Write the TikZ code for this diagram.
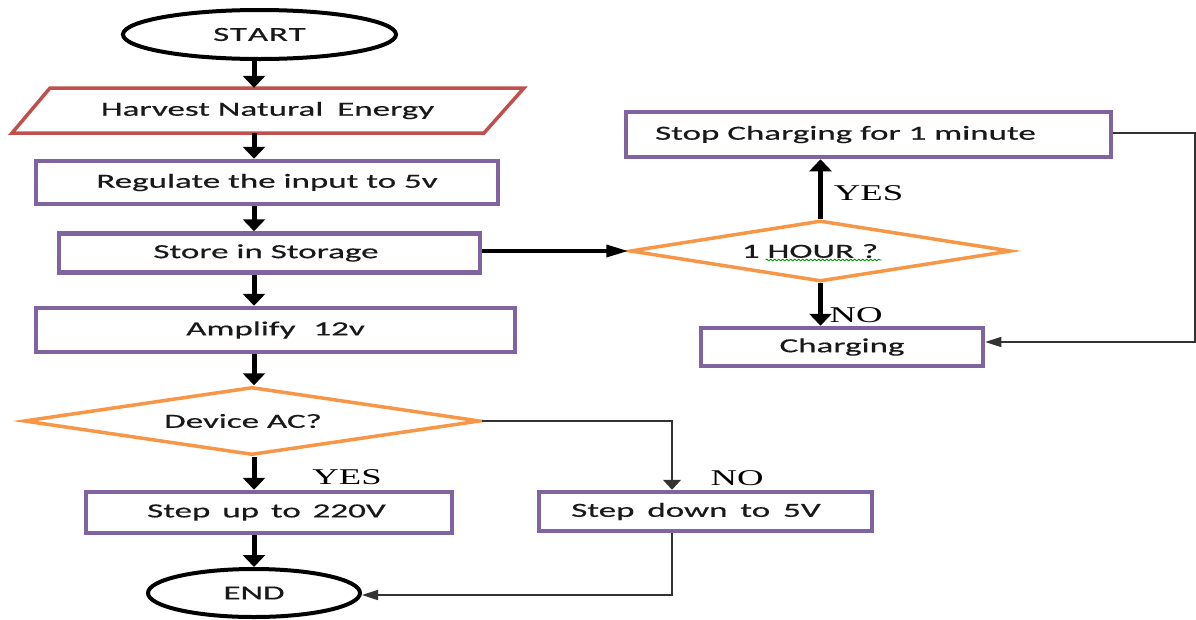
\documentclass[tikz,border=0pt]{standalone}
\usepackage{fontspec}
\newfontfamily\boxfont[FakeStretch=1.75,FakeBold=0.5]{Carlito}
\newfontfamily\labfont[FakeStretch=1.63]{Liberation Serif}
\usetikzlibrary{shapes.geometric,arrows.meta,decorations.pathmorphing}
\definecolor{boxpurple}{HTML}{8064A2}
\definecolor{dorange}{HTML}{F79646}
\definecolor{pred}{HTML}{C0504D}
\tikzset{
  txt/.style={font=\boxfont\fontsize{20}{24}\selectfont, text=black!90},
  proc/.style={txt, draw=boxpurple, line width=4.5pt, rectangle, inner sep=0pt},
  term/.style={txt, draw=black, line width=4pt, ellipse, inner sep=0pt},
  decis/.style={txt, draw=dorange, line width=3.5pt, diamond, inner sep=0pt},
  lab/.style={font=\labfont\fontsize{22.5}{26}\selectfont, text=black, inner sep=0pt},
  vthick/.style={draw=black, line width=5pt, -{Triangle[width=22pt,length=12pt]}},
  hthick/.style={draw=black, line width=3.5pt, -{Triangle[width=12pt,length=22pt]}},
  vthin/.style={draw=black!80, line width=1.6pt, -{Triangle[width=18pt,length=10pt]}},
  hthin/.style={draw=black!80, line width=1.6pt, -{Triangle[width=10pt,length=16pt]}},
}
\begin{document}
\begin{tikzpicture}[x=1pt,y=-1pt]
\useasboundingbox[fill=white] (0,0) rectangle (1196,619);
\coordinate (spine) at (254,0);
\coordinate (dcol) at (672,0);
\coordinate (rcol) at (1195,0);

% left column
\node[term, minimum width=273pt, minimum height=49pt] (start) at (259.5,34.5) {S\hspace{0.04em}T\hspace{0.04em}A\hspace{0.04em}R\hspace{0.04em}T};
\draw[draw=pred, line width=3.5pt, line join=miter] (50,88) -- (524,88) -- (484,133) -- (12,133) -- cycle;
\node[txt, inner sep=0pt, minimum height=45pt] (harvest) at (267.5,110.5) {Harvest Natural\hspace{0.3em} Energy};
\node[proc, minimum width=462pt, minimum height=43pt] (regulate) at (267,182.5) {Regulate the input to 5v};
\node[proc, minimum width=421pt, minimum height=39pt] (store) at (269.5,253) {\hspace*{-7pt}Store in Storage};
\node[proc, minimum width=479pt, minimum height=44pt] (amplify) at (275.5,330) {Amplify\hspace{0.5em} 12v};
\node[decis, aspect=6.7, minimum width=456pt, minimum height=68pt] (device) at (252,421) {\hspace*{-18pt}Device AC?};
\node[proc, minimum width=366pt, minimum height=41pt] (stepup) at (269,512.5) {\hspace*{-5pt}Step\hspace{0.2em} up\hspace{0.2em} to\hspace{0.2em} 220V};
\node[term, minimum width=212pt, minimum height=48pt] (endn) at (254,593) {END};
\node[proc, minimum width=333pt, minimum height=39pt] (stepdown) at (705.5,511.5) {\hspace*{-19pt}Step\hspace{0.25em} down\hspace{0.25em} to\hspace{0.25em} 5V};

% right part
\node[proc, minimum width=485pt, minimum height=45pt] (stop) at (868.5,134.5) {\hspace*{-46pt}Stop Charging for 1 minute};
\node[decis, aspect=6.25, minimum width=381pt, minimum height=61pt] (hour) at (820.5,251) {\hspace*{-21pt}1 HOUR ?};
\node[proc, minimum width=282pt, minimum height=38pt] (charging) at (842,347) {Charging};

% spell-check squiggle under "HOUR ?"
\draw[green!60!black, line width=0.8pt, decorate, decoration={snake, amplitude=0.9pt, segment length=4pt}]
  ([xshift=-55pt,yshift=-9pt]hour.center) -- ([xshift=61pt,yshift=-9pt]hour.center);

% labels
\node[lab] (yesl) at (347,477.5) {YES};
\node[lab] (nol) at (737,478) {NO};
\node[lab] (yesr) at (868.5,193.5) {YES};
\node[lab] (nor) at (856,315) {NO};

% main column connectors
\draw[vthick] (start.south -| spine) -- (harvest.north -| spine);
\draw[vthick] (harvest.south -| spine) -- (regulate.north -| spine);
\draw[vthick] (regulate.south -| spine) -- (store.north -| spine);
\draw[vthick] (store.south -| spine) -- (amplify.north -| spine);
\draw[vthick] (amplify.south -| spine) -- (device.north -| spine);
\draw[vthick] (device.south -| spine) -- (stepup.north -| spine);
\draw[vthick] (stepup.south -| spine) -- (endn.north -| spine);

% device NO branch
\draw[vthin] (device.east) -| (stepdown.north -| dcol);
\draw[hthin] (stepdown.south -| dcol) |- ([yshift=-2pt]endn.east);

% storage to hour check
\draw[hthick] (store.east |- hour.west) -- (hour.west);
\draw[vthick] (hour.north) -- (stop.south -| hour.north);
\draw[vthick] (hour.south) -- (charging.north -| hour.south);
\draw[hthin] ([yshift=1.5pt]stop.east) -- ([yshift=1.5pt]stop.east -| rcol) |- ([yshift=5pt]charging.east);
\end{tikzpicture}
\end{document}
